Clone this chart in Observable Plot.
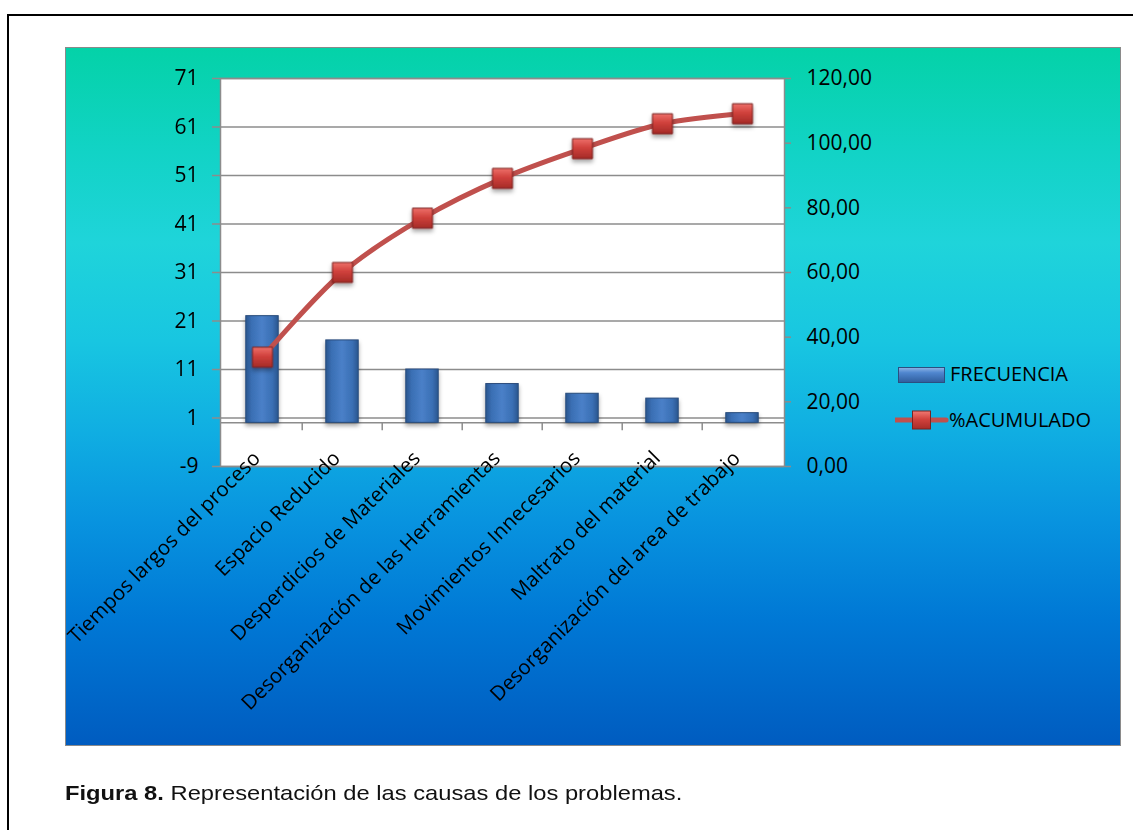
<!DOCTYPE html>
<html><head><meta charset="utf-8">
<script src="https://cdn.jsdelivr.net/npm/d3@7"></script>
<script src="https://cdn.jsdelivr.net/npm/@observablehq/plot@0.6"></script>
<style>
body{margin:0;background:#fff;}
#page{position:relative;width:1133px;height:830px;overflow:hidden;font-family:"Open Sans",sans-serif;}
#outer{position:absolute;left:7px;top:14px;width:1200px;height:900px;border:2px solid #000;box-sizing:border-box;}
#panel{position:absolute;left:65px;top:47px;width:1054px;height:697px;border:1px solid #8a8a8a;
background:linear-gradient(to bottom,#04d2a8 0%,#12d3c6 15%,#1fd4da 28%,#18c6e1 42%,#10aee2 55%,#0893df 68%,#0078d5 82%,#005cc0 100%);}
#chart{position:absolute;left:0;top:0;}
.leg{position:absolute;font-family:"Open Sans",sans-serif;font-size:20px;color:#000;line-height:1;}
#caption{position:absolute;left:65px;top:781px;font-family:"Liberation Sans",Arial,sans-serif;font-size:21px;color:#111;white-space:nowrap;transform:scaleX(1.13);transform-origin:0 0;}
</style></head>
<body>
<div id="page">
  <div id="outer"></div>
  <div id="panel"><div id="chart"></div></div>
  <svg class="leg" style="left:895px;top:365px" width="54" height="70">
    <defs>
      <linearGradient id="lgBar" x1="0" y1="0" x2="0" y2="1">
        <stop offset="0" stop-color="#8fb5e6"/><stop offset="0.35" stop-color="#4f86cf"/><stop offset="1" stop-color="#2f5d9c"/>
      </linearGradient>
      <linearGradient id="lgMk" x1="0" y1="0" x2="0" y2="1">
        <stop offset="0" stop-color="#f07a74"/><stop offset="0.45" stop-color="#d2423d"/><stop offset="1" stop-color="#a82c28"/>
      </linearGradient>
    </defs>
    <rect x="3.5" y="2.5" width="46" height="15" fill="url(#lgBar)" stroke="#2b4f80" stroke-width="1"/>
    <line x1="0" y1="55" x2="51" y2="55" stroke="#c0504d" stroke-width="5" stroke-linecap="round"/>
    <rect x="17.5" y="46" width="18" height="18" fill="url(#lgMk)" stroke="#7a2220" stroke-width="1"/>
  </svg>
  <div class="leg" style="left:950px;top:364px">FRECUENCIA</div>
  <div class="leg" style="left:949px;top:410px">%ACUMULADO</div>
  <div id="caption"><b>Figura 8.</b> Representación de las causas de los problemas.</div>
</div>
<script>
const categories = [
  "Tiempos largos del proceso",
  "Espacio Reducido",
  "Desperdicios de Materiales",
  "Desorganización de las Herramientas",
  "Movimientos Innecesarios",
  "Maltrato del material",
  "Desorganización del area de trabajo"
];
const frecuencia = [22, 17, 11, 8, 6, 5, 2];
const acumulado = [33.8, 60.0, 76.8, 89.1, 98.3, 106.0, 109.1];
const leftTicks = [-9, 1, 11, 21, 31, 41, 51, 61, 71];
const rightTicks = [0, 20, 40, 60, 80, 100, 120];

// secondary axis mapping: 0..120 (%) onto -9..71 (left scale)
const leftMin = -9, leftMax = 71, rightMin = 0, rightMax = 120;
const toLeft = p => leftMin + (p - rightMin) * (leftMax - leftMin) / (rightMax - rightMin);

const rows = categories.map((c, i) => ({cat: c, freq: frecuencia[i], acum: acumulado[i]}));

const W = 1054, H = 697, mL = 154, mR = 336, mT = 30, mB = 279;
const step = (W - mL - mR) / categories.length;
const grid = "#8c8c8c";

const chart = Plot.plot({
  width: W, height: H,
  marginLeft: mL, marginRight: mR, marginTop: mT, marginBottom: mB,
  style: {background: "transparent", fontFamily: "Open Sans, sans-serif", fontSize: "20px", color: "#000", overflow: "visible"},
  x: {type: "band", domain: categories, padding: 0, axis: null},
  y: {domain: [leftMin, leftMax], axis: null},
  marks: [
    Plot.frame({fill: "white", stroke: null}),
    Plot.ruleY(leftTicks, {stroke: grid, strokeWidth: 1.5}),
    Plot.ruleY([0], {stroke: grid, strokeWidth: 1.5}),
    Plot.ruleX(categories.slice(1), {x: d => d, y1: 0, y2: -1.65, dx: -step / 2, stroke: grid, strokeWidth: 1.5}),
    Plot.barY(rows, {x: "cat", y1: 0, y2: "freq", fill: "url(#barGrad)", stroke: "#2a4c7c", strokeWidth: 1,
      insetLeft: (step - 33) / 2, insetRight: (step - 33) / 2, className: "bars"}),
    Plot.line(rows, {x: "cat", y: d => toLeft(d.acum), stroke: "#c0504d", strokeWidth: 5, curve: "catmull-rom"}),
    Plot.dot(rows, {x: "cat", y: d => toLeft(d.acum), symbol: "square", r: 11.3, fill: "url(#mkGrad)", stroke: "#7a2220", strokeWidth: 1, className: "marks"}),
    Plot.frame({stroke: grid, strokeWidth: 1.5}),
    Plot.axisY(leftTicks, {anchor: "left", tickSize: 8, tickPadding: 14, label: null, stroke: grid, fill: "#000", fontSize: 21, strokeWidth: 1.5,
      tickFormat: d => String(d)}),
    Plot.axisY(rightTicks.map(toLeft), {anchor: "right", tickSize: 6, tickPadding: 16, label: null, stroke: grid, fill: "#000", fontSize: 21, strokeWidth: 1.5,
      tickFormat: d => {
        const p = Math.round(rightMin + (d - leftMin) * (rightMax - rightMin) / (leftMax - leftMin));
        return p.toFixed(2).replace(".", ",");
      }}),
    Plot.text(rows, {x: "cat", text: "cat", frameAnchor: "bottom", rotate: -45, textAnchor: "end", fontSize: 20.5, fill: "#000", dx: -1, dy: -7})
  ]
});

const svg = d3.select(chart);
const defs = svg.insert("defs", ":first-child");
defs.html(`
  <linearGradient id="barGrad" x1="0" y1="0" x2="1" y2="0">
    <stop offset="0" stop-color="#2a568f"/>
    <stop offset="0.18" stop-color="#3a6fb4"/>
    <stop offset="0.5" stop-color="#4a80c8"/>
    <stop offset="0.82" stop-color="#3a6fb4"/>
    <stop offset="1" stop-color="#2a568f"/>
  </linearGradient>
  <linearGradient id="mkGrad" x1="0" y1="0" x2="0" y2="1">
    <stop offset="0" stop-color="#ee706a"/>
    <stop offset="0.45" stop-color="#d0413c"/>
    <stop offset="1" stop-color="#a52b27"/>
  </linearGradient>
  <filter id="shadow" x="-30%" y="-30%" width="160%" height="170%">
    <feDropShadow dx="0" dy="3" stdDeviation="2" flood-color="#000" flood-opacity="0.35"/>
  </filter>`);
svg.selectAll(".bars, .marks").attr("filter", "url(#shadow)");
document.getElementById("chart").appendChild(chart);
</script>
</body></html>
